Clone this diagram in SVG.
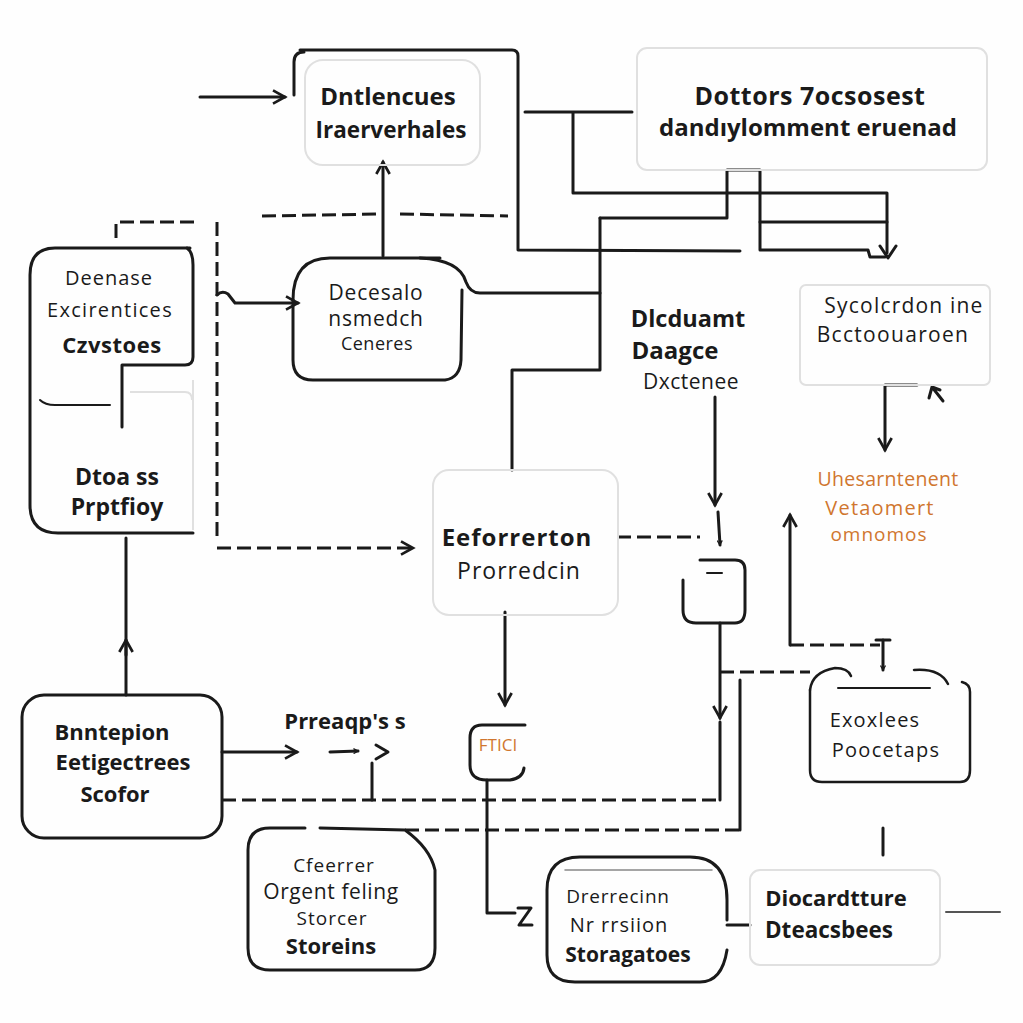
<svg xmlns="http://www.w3.org/2000/svg" width="1023" height="1023" viewBox="0 0 1023 1023">
<defs>
<style>
.bg{fill:#fefefe}
.ln{fill:none;stroke:#1a1a1a;stroke-width:3;stroke-linecap:round;stroke-linejoin:round}
.ds{fill:none;stroke:#1a1a1a;stroke-width:3;stroke-dasharray:14 6}
.box{fill:none;stroke:#1a1a1a;stroke-width:3}
.fb{fill:none;stroke:#e0e0e0;stroke-width:2}
.t{font-family:"Open Sans","Liberation Sans",sans-serif;fill:#1a1a1a;text-anchor:middle}
.b{font-weight:700}
.o{fill:#d0762f}
</style>
<marker id="ah" viewBox="0 0 12 12" refX="10" refY="6" markerWidth="6" markerHeight="6" orient="auto" markerUnits="userSpaceOnUse">
<path d="M1,1 L10,6 L1,11" fill="none" stroke="#1a1a1a" stroke-width="2.5"/>
</marker>
<marker id="ah2" viewBox="0 0 12 12" refX="10" refY="6" markerWidth="16" markerHeight="16" orient="auto" markerUnits="userSpaceOnUse">
<path d="M1,1 L10,6 L1,11" fill="none" stroke="#1a1a1a" stroke-width="2"/>
</marker>
</defs>
<rect class="bg" x="0" y="0" width="1023" height="1023"/>

<g id="connectors">
<path class="ln" d="M200,97 L285,97" marker-end="url(#ah2)"/>
<path class="ln" d="M383,256 L383,162" marker-end="url(#ah2)"/>
<path class="ds" d="M262,216 L380,214 M400,214 L508,216"/>
<path class="ln" d="M300,50 L512,50 Q518,50 518,56 L518,250 L740,251"/>
<path class="ln" d="M525,112 L632,112 M573,112 L573,193 L887,193 L887,253" />
<path class="ln" d="M880,246 L888,258 L896,246"/>
<path class="ln" d="M600,218 L727,218 L727,170 L760,170 L760,250 L868,250 L870,257 L885,257"/>
<path class="ln" d="M760,222 L887,222"/>
<path class="ln" d="M600,218 L600,370 L512,370 L512,470"/>
<path class="ln" d="M420,258 Q460,260 466,282 Q470,293 480,293 L600,293"/>
<path class="ds" d="M116,238 L116,222 L195,222"/>
<path class="ds" d="M217,222 L217,540"/>
<path class="ds" d="M217,548 L413,548" marker-end="url(#ah2)"/>
<path class="ln" d="M217,295 Q222,290 228,294 L235,303 L298,303" marker-end="url(#ah2)"/>
<path class="ln" d="M715,397 L715,505" marker-end="url(#ah2)"/>
<path class="ln" d="M718,512 L720,545" marker-end="url(#ah)"/>
<path class="ds" d="M617,537 L700,537"/>
<path class="ln" d="M917,385 L885,385 L885,450" marker-end="url(#ah2)"/>
<path class="ln" d="M943,401 L932,387 M932,387 L929,398 M932,387 L940,390"/>
<path class="ln" d="M505,612 L505,705" marker-end="url(#ah2)"/>
<path class="ln" d="M720,623 L720,718" marker-end="url(#ah2)"/>
<path class="ds" d="M720,672 L810,672"/>
<path class="ln" d="M720,722 L720,800"/>
<path class="ds" d="M222,800 L720,800"/>
<path class="ln" d="M740,680 L740,830"/>
<path class="ds" d="M405,830 L740,830"/>
<path class="ln" d="M790,645 L790,515" marker-end="url(#ah2)"/>
<path class="ds" d="M790,645 L880,645"/>
<path class="ln" d="M883,640 L883,670" marker-end="url(#ah)"/>
<path class="ln" d="M876,640 L890,640"/>
<path class="ln" d="M126,695 L126,538"/>
<path class="ln" d="M126,655 L126,640" marker-end="url(#ah2)"/>
<path class="ln" d="M222,752 L297,752" marker-end="url(#ah2)"/>
<path class="ln" d="M330,752 L358,751" marker-end="url(#ah)"/>
<path class="ln" d="M376,745 L388,752 L376,759"/>
<path class="ln" d="M372,763 L372,800"/>
<path class="ln" d="M487,780 L487,913 L515,913"/>
<path class="ln" d="M518,908 L531,908 L519,925 L532,925"/>
<path class="ln" d="M727,925 L750,925"/>
<path class="ln" d="M883,828 L883,855"/>
<path class="ln" d="M946,912 L1000,912" style="stroke:#555;stroke-width:2"/>
</g>

<g id="n-dntlencues">
<path class="ln" d="M294,95 L294,62 Q294,52 304,52"/>
<rect class="fb" x="305" y="60" width="175" height="105" rx="18"/>
<text class="t b" x="388" y="105" font-size="24">Dntlencues</text>
<text class="t b" x="391" y="138" font-size="22.5">Iraerverhales</text>
</g>

<g id="n-dottors">
<rect class="fb" x="637" y="48" width="350" height="122" rx="10"/>
<text class="t b" x="810" y="105" font-size="25" letter-spacing="0.5">Dottors 7ocsosest</text>
<text class="t b" x="808" y="136" font-size="24">dandıylomment eruenad</text>
</g>

<g id="n-deenase">
<path class="ln" d="M187,248 Q193,252 193,265 L193,357 Q193,365 185,365 L122,365 L122,427"/>
<path class="ln" d="M190,248 L55,248 Q30,248 30,275 L30,505 Q30,533 58,533 L193,533"/>
<path class="fb" d="M193,380 L193,530"/>
<path class="fb" d="M130,392 L185,392 Q192,392 192,400" />
<path class="ln" d="M40,400 Q45,405 55,405 L110,405" style="stroke-width:2"/>
<text class="t" x="109" y="285" font-size="20" letter-spacing="1">Deenase</text>
<text class="t" x="110" y="317" font-size="20" letter-spacing="1.3">Excirentices</text>
<text class="t b" x="112" y="353" font-size="22" letter-spacing="0.5">Czvstoes</text>
<text class="t b" x="117" y="485" font-size="23">Dtoa ss</text>
<text class="t b" x="117" y="515" font-size="23">Prptfioy</text>
</g>

<g id="n-decesalo">
<path class="ln" d="M293,300 Q293,258 330,258 L440,258"/>
<path class="ln" d="M293,300 L293,360 Q293,380 313,380 L445,380 Q460,378 461,360 L462,290"/>
<text class="t" x="376" y="300" font-size="21" letter-spacing="0.8">Decesalo</text>
<text class="t" x="376" y="326" font-size="21" letter-spacing="0.8">nsmedch</text>
<text class="t" x="377" y="350" font-size="18" letter-spacing="0.5">Ceneres</text>
</g>

<g id="n-dlcduamt">
<text class="t b" x="688" y="327" font-size="23.5">Dlcduamt</text>
<text class="t b" x="675" y="359" font-size="24">Daagce</text>
<text class="t" x="691" y="389" font-size="21" letter-spacing="0.5">Dxctenee</text>
</g>

<g id="n-sycolcrdon">
<rect class="fb" x="800" y="285" width="190" height="100" rx="6"/>
<text class="t" x="904" y="313" font-size="21" letter-spacing="1.2">Sycolcrdon ine</text>
<text class="t" x="893" y="342" font-size="21" letter-spacing="1.3">Bcctoouaroen</text>
</g>

<g id="n-uhesarntenent">
<text class="t o" x="888" y="486" font-size="19.5" letter-spacing="0.3">Uhesarntenent</text>
<text class="t o" x="880" y="515" font-size="20" letter-spacing="1.2">Vetaomert</text>
<text class="t o" x="879" y="541" font-size="19" letter-spacing="1">omnomos</text>
</g>

<g id="n-eeforrerton">
<rect class="fb" x="433" y="470" width="185" height="145" rx="16"/>
<text class="t b" x="517" y="546" font-size="24" letter-spacing="1">Eeforrerton</text>
<text class="t" x="519" y="579" font-size="23" letter-spacing="1">Prorredcin</text>
</g>

<g id="n-small">
<path class="ln" d="M683,580 L683,610 Q683,623 696,623 L735,623 Q745,623 745,610 L745,570 Q745,560 735,560 L700,560"/>
<path class="ln" d="M707,573 L722,573" style="stroke-width:2"/>
</g>

<g id="n-fticl">
<path class="ln" d="M525,725 L482,725 Q470,725 470,738 L470,765 Q470,780 487,780 L510,780 Q523,778 524,768"/>
<text class="t o" x="498" y="751" font-size="17">FTICI</text>
</g>

<g id="n-exoxlees">
<path class="ln" d="M810,690 L810,770 Q810,782 822,782 L960,782 Q970,782 970,770 L970,692 Q970,684 962,682" style="stroke-width:2.5"/>
<path class="ln" d="M810,690 Q812,672 835,668 Q848,668 851,676" style="stroke-width:2.5"/>
<path class="ln" d="M914,670 Q940,668 948,684" style="stroke-width:2.5"/>
<path class="ln" d="M838,688 L930,688" style="stroke-width:2"/>
<text class="t" x="875" y="727" font-size="20" letter-spacing="1.2">Exoxlees</text>
<text class="t" x="886" y="757" font-size="20" letter-spacing="1.3">Poocetaps</text>
</g>

<g id="n-bnntepion">
<rect class="box" x="22" y="695" width="200" height="143" rx="22"/>
<text class="t b" x="112" y="740" font-size="22">Bnntepion</text>
<text class="t b" x="123" y="770" font-size="22">Eetigectrees</text>
<text class="t b" x="115" y="802" font-size="22">Scofor</text>
</g>

<g id="n-prreaqps">
<text class="t b" x="345" y="729" font-size="22">Prreaqp's s</text>
</g>

<g id="n-cfeerrer">
<path class="ln" d="M305,828 L270,828 Q248,828 248,850 L248,948 Q248,970 270,970 L415,970 Q435,970 435,948 L435,870 Q430,848 405,830 L320,828"/>
<text class="t" x="334" y="872" font-size="19" letter-spacing="1">Cfeerrer</text>
<text class="t" x="331" y="899" font-size="21" letter-spacing="0.6">Orgent feling</text>
<text class="t" x="332" y="925" font-size="19" letter-spacing="1">Storcer</text>
<text class="t b" x="331" y="954" font-size="22">Storeins</text>
</g>

<g id="n-drerrecinn">
<path class="ln" d="M727,920 L727,900 Q727,857 690,857 L580,857 Q547,857 547,890 L547,955 Q547,982 575,982 L700,982 Q722,982 727,950"/>
<path class="ln" d="M565,870 L712,870" style="stroke:#888;stroke-width:1.5"/>
<text class="t" x="618" y="903" font-size="19" letter-spacing="0.8">Drerrecinn</text>
<text class="t" x="619" y="932" font-size="20" letter-spacing="1">Nr rrsiion</text>
<text class="t b" x="628" y="962" font-size="21">Storagatoes</text>
</g>

<g id="n-diocardtture">
<rect class="fb" x="750" y="870" width="190" height="95" rx="10"/>
<text class="t b" x="836" y="906" font-size="22">Diocardtture</text>
<text class="t b" x="829" y="938" font-size="22.5">Dteacsbees</text>
</g>
</svg>
